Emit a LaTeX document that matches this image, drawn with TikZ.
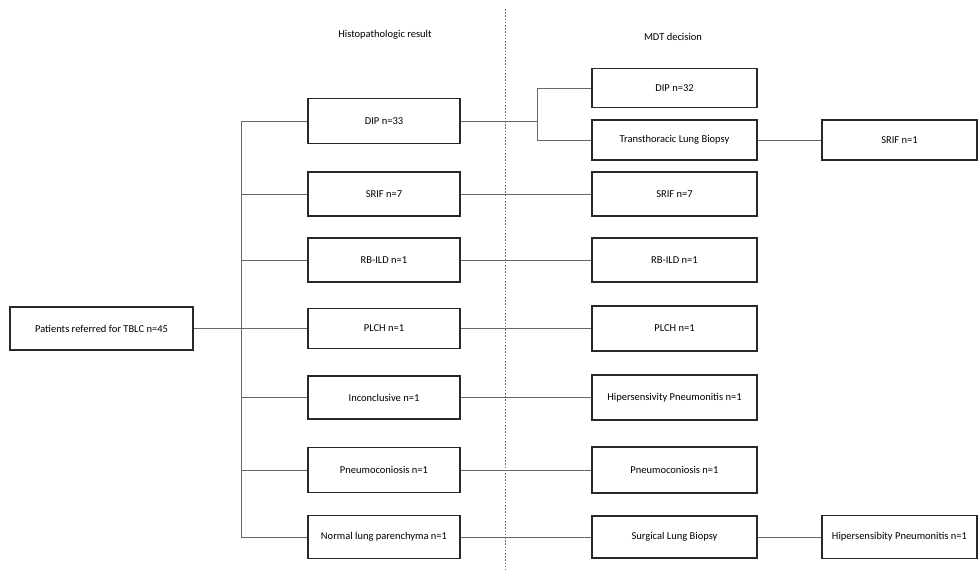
\documentclass[tikz,border=0pt]{standalone}
\usepackage{fontspec}
\setmainfont{Carlito}
\usetikzlibrary{positioning}
\definecolor{boxline}{RGB}{40,40,40}
\definecolor{linkgray}{RGB}{105,105,105}

\begin{document}
\begin{tikzpicture}[x=1pt,y=-1pt,
  flowbox/.style={draw=boxline, line width=1.2pt, inner sep=0pt,
    minimum height=44pt, font=\fontsize{10.5}{12}\selectfont},
  histbox/.style={flowbox, minimum width=152pt},
  mdtbox/.style={flowbox, minimum width=165pt},
  finalbox/.style={flowbox, minimum width=155pt},
  link/.style={draw=linkgray, line width=0.7pt},
  header/.style={font=\fontsize{10.5}{12}\selectfont}
]
  \useasboundingbox (0,0) rectangle (978,570);

  % column headers and divider
  \node[header] (histhead) at (385,35) {Histopathologic result};
  \node[header] (mdthead) at (673,37) {MDT decision};
  \draw[linkgray, line width=0.7pt, dash pattern=on 1.6pt off 1.6pt]
    (505,9) -- (505,570);

  % starting box
  \node[flowbox, minimum width=183pt, minimum height=43pt] (patients)
    at (101.5,328.5) {Patients referred for TBLC n=45};
  \coordinate (trunk) at (241,328.5);

  % histopathologic results
  \node[histbox, minimum height=45pt] (hdip) at (384,121) {DIP n=33};
  \node[histbox] (hsrif) at (384,194) {SRIF n=7};
  \node[histbox] (hrbild) at (384,260) {RB-ILD n=1};
  \node[histbox, minimum height=40pt] (hplch) at (384,328.5) {PLCH n=1};
  \node[histbox, minimum height=43pt] (hincon) at (384,397.5) {Inconclusive n=1};
  \node[histbox, minimum height=45pt] (hpneumo) at (384,470) {Pneumoconiosis n=1};
  \node[histbox, minimum height=43pt] (hnormal) at (384,537) {Normal lung parenchyma n=1};

  % MDT decisions
  \node[mdtbox, minimum height=39pt] (mdip) at (674.5,88) {DIP n=32};
  \node[mdtbox, minimum height=40pt] (mttlb) at (674.5,140) {Transthoracic Lung Biopsy};
  \node[mdtbox] (msrif) at (674.5,194) {SRIF n=7};
  \node[mdtbox] (mrbild) at (674.5,260) {RB-ILD n=1};
  \node[mdtbox, minimum height=45pt] (mplch) at (674.5,328.5) {PLCH n=1};
  \node[mdtbox, minimum height=45pt] (mhp) at (674.5,397.5) {Hipersensivity Pneumonitis n=1};
  \node[mdtbox, minimum height=46pt] (mpneumo) at (674.5,470) {Pneumoconiosis n=1};
  \node[mdtbox, minimum height=42pt] (msurg) at (674.5,537) {Surgical Lung Biopsy};

  % biopsy outcomes
  \node[finalbox, minimum height=40pt] (fsrif) at (899.5,140) {SRIF n=1};
  \node[finalbox, minimum height=43pt] (fhp) at (899.5,537) {Hipersensibity Pneumonitis n=1};

  % tree from the starting box
  \draw[link] (patients.east) -- (hplch.west);
  \draw[link] (trunk |- hdip.west) -- (trunk |- hnormal.west);
  \draw[link] (trunk |- hdip.west) -- (hdip.west);
  \draw[link] (trunk |- hsrif.west) -- (hsrif.west);
  \draw[link] (trunk |- hrbild.west) -- (hrbild.west);
  \draw[link] (trunk |- hincon.west) -- (hincon.west);
  \draw[link] (trunk |- hpneumo.west) -- (hpneumo.west);
  \draw[link] (trunk |- hnormal.west) -- (hnormal.west);

  % DIP split
  \coordinate (split) at (537,121);
  \draw[link] (hdip.east) -- (split);
  \draw[link] (split |- mdip.west) -- (split |- mttlb.west);
  \draw[link] (split |- mdip.west) -- (mdip.west);
  \draw[link] (split |- mttlb.west) -- (mttlb.west);

  % straight links
  \draw[link] (hsrif.east) -- (msrif.west);
  \draw[link] (hrbild.east) -- (mrbild.west);
  \draw[link] (hplch.east) -- (mplch.west);
  \draw[link] (hincon.east) -- (mhp.west);
  \draw[link] (hpneumo.east) -- (mpneumo.west);
  \draw[link] (hnormal.east) -- (msurg.west);
  \draw[link] (mttlb.east) -- (fsrif.west);
  \draw[link] (msurg.east) -- (fhp.west);

\end{tikzpicture}
\end{document}
